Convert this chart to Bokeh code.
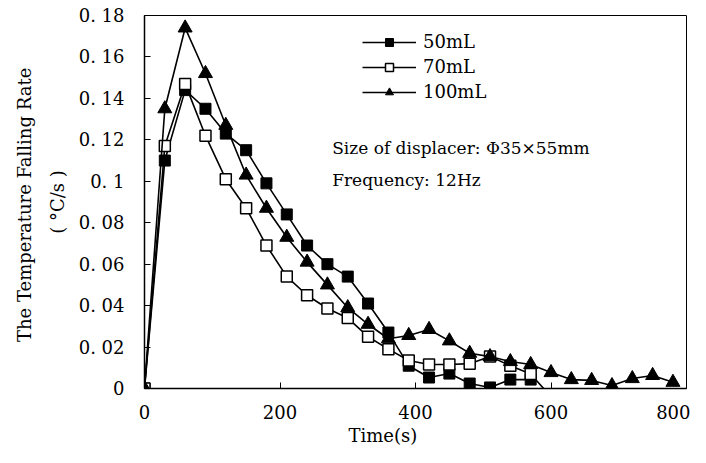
import numpy as np
from bokeh.plotting import figure
from bokeh.models import Range1d, FixedTicker, Legend, LegendItem, Label, Title
from bokeh.embed import file_html
from bokeh.resources import INLINE

# ---- data ----
t50 = [0, 30, 60, 90, 120, 150, 180, 210, 240, 270, 300, 330, 360, 390, 420, 450, 480, 510, 540, 570]
v50 = [0, 0.110, 0.144, 0.135, 0.123, 0.115, 0.099, 0.084, 0.069, 0.060, 0.054, 0.041, 0.027, 0.011,
       0.0053, 0.0072, 0.0024, 0.0005, 0.0043, 0.0043]

t70 = [0, 30, 60, 90, 120, 150, 180, 210, 240, 270, 300, 330, 360, 390, 420, 450, 480, 510, 540, 570, 600]
v70 = [0, 0.117, 0.147, 0.122, 0.101, 0.087, 0.069, 0.054, 0.045, 0.0386, 0.034, 0.025, 0.019, 0.0135,
       0.0116, 0.0116, 0.012, 0.0155, 0.011, 0.007, -0.004]

t100 = [0, 30, 60, 90, 120, 150, 180, 210, 240, 270, 300, 330, 360, 390, 420, 450, 480, 510, 540, 570,
        600, 630, 660, 690, 720, 750, 780]
v100 = [0, 0.135, 0.174, 0.152, 0.127, 0.103, 0.087, 0.073, 0.061, 0.050, 0.039, 0.031, 0.024, 0.0256,
        0.0285, 0.023, 0.017, 0.0154, 0.013, 0.0116, 0.0077, 0.0043, 0.0039, 0.0014, 0.0048, 0.0063, 0.003]

series_names = ["50mL", "70mL", "100mL"]
x_ticks = [0, 200, 400, 600, 800]
y_ticks = [0, 0.02, 0.04, 0.06, 0.08, 0.1, 0.12, 0.14, 0.16, 0.18]
y_tick_labels = ["0", "0. 02", "0. 04", "0. 06", "0. 08", "0. 1", "0. 12", "0. 14", "0. 16", "0. 18"]
x_title = "Time(s)"
y_title_1 = "The  Temperature Falling Rate"
y_title_2 = "( \u00b0C/s )"
note_1 = "Size of displacer: \u03a635\u00d755mm"
note_2 = "Frequency: 12Hz"

FONT = "DejaVu Serif"

p = figure(width=690, height=447, output_backend="svg", toolbar_location=None,
           x_range=Range1d(0, 800), y_range=Range1d(0, 0.18),
           min_border_left=144, min_border_right=4, min_border_top=15, min_border_bottom=59)
p.background_fill_color = "white"
p.border_fill_color = "white"
p.outline_line_color = "black"
p.outline_line_width = 1
p.xgrid.visible = False
p.ygrid.visible = False

for ax in (p.xaxis[0], p.yaxis[0]):
    ax.axis_line_color = "black"
    ax.axis_line_width = 1.5
    ax.major_tick_in = 6
    ax.major_tick_out = 0
    ax.minor_tick_line_color = None
    ax.major_tick_line_color = "black"
    ax.major_label_text_font = FONT
    ax.major_label_text_font_size = "18px"
    ax.major_label_text_color = "black"

p.xaxis.ticker = FixedTicker(ticks=x_ticks)
p.yaxis.ticker = FixedTicker(ticks=y_ticks)
p.yaxis.major_label_overrides = {v: s for v, s in zip(y_ticks, y_tick_labels)}
p.xaxis.major_label_standoff = 16
p.yaxis.major_label_standoff = 20

# lines + markers
l50 = p.line(t50, v50, line_color="black", line_width=1.6)
s50 = p.scatter(t50, v50, marker="square", size=11, fill_color="black", line_color="black")

t70a = np.array(t70); v70a = np.array(v70)
mask = v70a >= 0
l70 = p.line(t70, v70, line_color="black", line_width=1.6)
s70 = p.scatter(t70a[mask], v70a[mask], marker="square", size=11, fill_color="white",
                line_color="black", line_width=1.5)

l100 = p.line(t100, v100, line_color="black", line_width=1.6)
s100 = p.scatter(t100, v100, marker="triangle", size=14, fill_color="black", line_color="black")

legend = Legend(items=[LegendItem(label=series_names[0], renderers=[l50, s50]),
                       LegendItem(label=series_names[1], renderers=[l70, s70]),
                       LegendItem(label=series_names[2], renderers=[l100, s100])],
                location=(218, 286))
legend.glyph_width = 54
legend.glyph_height = 20
legend.label_standoff = 7
legend.spacing = 4
legend.padding = 0
legend.margin = 0
legend.border_line_color = None
legend.background_fill_alpha = 0
legend.label_text_font = FONT
legend.label_text_font_size = "18px"
legend.label_text_color = "black"
legend.label_height = 20
p.add_layout(legend)

p.add_layout(Label(x=277, y=0.1163, text=note_1, text_font=FONT, text_font_size="17px",
                   text_baseline="middle", text_color="black"))
p.add_layout(Label(x=277, y=0.1005, text=note_2, text_font=FONT, text_font_size="17px",
                   text_baseline="middle", text_color="black"))

p.add_layout(Title(text=y_title_2, align="center", offset=-8, text_font=FONT, text_font_size="18px",
                   text_font_style="normal", text_color="black", standoff=15), "left")
p.add_layout(Title(text=y_title_1, align="center", offset=-8, text_font=FONT, text_font_size="18px",
                   text_font_style="normal", text_color="black", standoff=6), "left")
p.add_layout(Title(text=x_title, align="left", offset=204, text_font=FONT, text_font_size="18px",
                   text_font_style="normal", text_color="black", standoff=2), "below")

open("out.html", "w").write(file_html(p, INLINE))
